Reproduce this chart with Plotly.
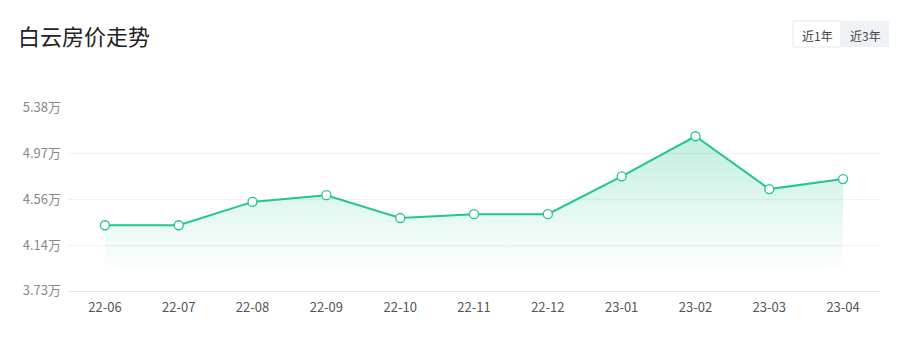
import plotly.graph_objects as go

months = ["22-06", "22-07", "22-08", "22-09", "22-10", "22-11", "22-12",
          "23-01", "23-02", "23-03", "23-04"]
prices = [4.32, 4.32, 4.53, 4.59, 4.385, 4.42, 4.42, 4.76, 5.12, 4.645, 4.735]
tick_vals = [3.73, 4.1425, 4.555, 4.9675, 5.38]
tick_text = ["3.73万", "4.14万", "4.56万", "4.97万", "5.38万"]
title_text = "白云房价走势"
buttons = ["近1年", "近3年"]

GREEN = "#23c68b"
FONT = "Noto Sans CJK SC"

fig = go.Figure()
fig.add_trace(go.Scatter(
    x=list(range(len(months))), y=prices,
    mode="lines+markers",
    line=dict(color=GREEN, width=2),
    marker=dict(size=9, color="white", line=dict(color=GREEN, width=1.3)),
    fill="tozeroy",
    fillgradient=dict(type="vertical", start=3.9, stop=5.12,
                      colorscale=[[0, "rgba(35,198,139,0)"], [1, "rgba(35,198,139,0.28)"]]),
    hoverinfo="skip",
))

fig.update_layout(
    width=905, height=339,
    margin=dict(l=68, r=25, t=107, b=48),
    paper_bgcolor="white", plot_bgcolor="white",
    showlegend=False,
    font=dict(family=FONT),
    xaxis=dict(
        tickmode="array", tickvals=list(range(len(months))), ticktext=months,
        range=[-0.5, len(months) - 0.5],
        showgrid=False, zeroline=False,
        showline=True, linecolor="#e6e6e6", linewidth=1,
        ticks="", tickfont=dict(size=13, color="#555", family=FONT),
        ticklabelstandoff=4,
    ),
    yaxis=dict(
        range=[3.729, 5.383],
        tickmode="array", tickvals=tick_vals, ticktext=tick_text,
        showgrid=True, gridcolor="#f1f1f1", gridwidth=1,
        zeroline=False, showline=False, ticks="",
        tickfont=dict(size=13, color="#888", family=FONT),
        ticklabelstandoff=6,
    ),
)

fig.add_annotation(xref="paper", yref="paper", x=(16 - 68) / 812, y=(339 - 48 - 35) / 184,
                   xanchor="left", yanchor="middle", showarrow=False,
                   text=title_text, font=dict(size=22, color="#222", family=FONT))

# Buttons
def px_x(p):
    return (p - 68) / 812

def px_y(p):
    return (339 - 48 - p) / 184

fig.add_shape(type="rect", xref="paper", yref="paper",
              x0=px_x(841), x1=px_x(889), y0=px_y(47), y1=px_y(21),
              fillcolor="#eef1f5", line=dict(width=0), layer="below")
fig.add_shape(type="rect", xref="paper", yref="paper",
              x0=px_x(793), x1=px_x(841), y0=px_y(47), y1=px_y(21),
              fillcolor="white", line=dict(color="#e8e8e8", width=1), layer="below")
for i, b in enumerate(buttons):
    fig.add_annotation(xref="paper", yref="paper", x=px_x(817 + 48 * i), y=px_y(35),
                       xanchor="center", yanchor="middle", showarrow=False,
                       text=b, font=dict(size=12, color="#444", family=FONT))

fig.write_html("out.html")
